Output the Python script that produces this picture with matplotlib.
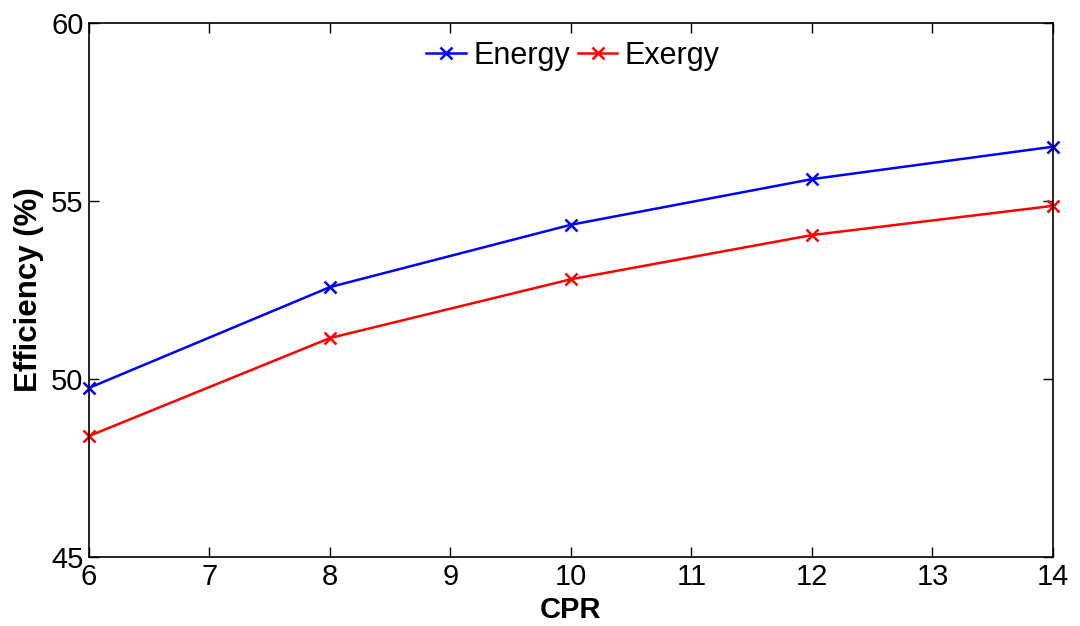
import matplotlib
matplotlib.use("Agg")
import matplotlib.pyplot as plt

cpr = [6, 8, 10, 12, 14]
energy = [49.75, 52.58, 54.33, 55.61, 56.52]
exergy = [48.40, 51.15, 52.80, 54.04, 54.86]
xticks = [6, 7, 8, 9, 10, 11, 12, 13, 14]
yticks = [45, 50, 55, 60]

plt.rcParams['font.family'] = ['Liberation Sans', 'DejaVu Sans']

fig = plt.figure(figsize=(10.8, 6.26), dpi=100)
ax = fig.add_axes([0.0824, 0.110, 0.8926, 0.8537])

ax.plot(cpr, energy, color='#0000ff', marker='x', markersize=8, markeredgewidth=1.8,
        linewidth=1.8, label='Energy', clip_on=False)
ax.plot(cpr, exergy, color='#ff0000', marker='x', markersize=8, markeredgewidth=1.8,
        linewidth=1.8, label='Exergy', clip_on=False)

ax.set_xlim(6, 14)
ax.set_ylim(45, 60)
ax.set_xticks(xticks)
ax.set_yticks(yticks)
ax.tick_params(direction='in', length=7, width=1, labelsize=21, pad=4, top=True, right=True)
for s in ax.spines.values():
    s.set_linewidth(1.2)

ax.set_xlabel('CPR', fontsize=21, fontweight='bold', labelpad=4)
ax.set_ylabel('Efficiency (%)', fontsize=22.5, fontweight='bold', labelpad=5)

ax.legend(loc='upper center', ncol=2, frameon=False, fontsize=22, handlelength=1.3,
          handletextpad=0.23, columnspacing=0.26, borderaxespad=0.2,
          bbox_to_anchor=(0.502, 1.0))

fig.savefig('out.png', dpi=100)
